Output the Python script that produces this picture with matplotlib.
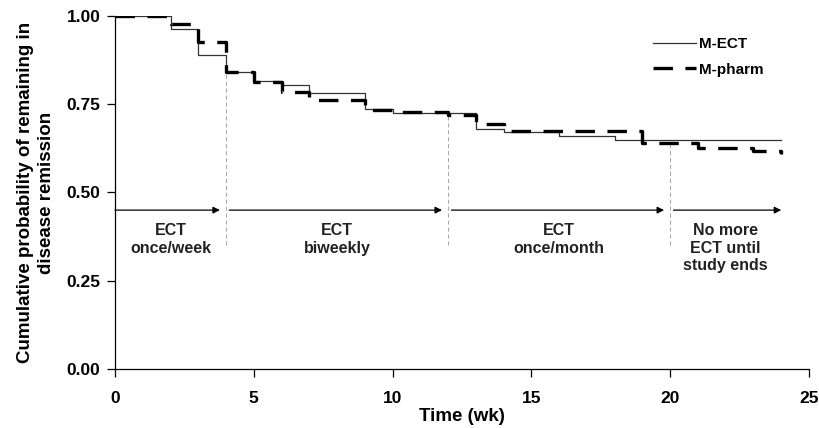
import numpy as np
import matplotlib
matplotlib.use("Agg")
import matplotlib.pyplot as plt

plt.rcParams['font.family'] = ['Liberation Sans', 'DejaVu Sans']
plt.rcParams['lines.scale_dashes'] = False

# Kaplan-Meier step data (time in weeks, survival probability)
ect_t = [0, 2, 3, 4, 5, 6, 7, 9, 10, 13, 14, 16, 18, 24]
ect_s = [1.0, 0.962, 0.890, 0.840, 0.816, 0.805, 0.783, 0.737, 0.726, 0.680, 0.672, 0.660, 0.650, 0.650]

pharm_t = [0, 2, 3, 4, 5, 6, 7, 9, 10, 12, 13, 14, 19, 21, 23, 24]
pharm_s = [1.0, 0.976, 0.925, 0.842, 0.812, 0.784, 0.762, 0.734, 0.729, 0.720, 0.694, 0.675, 0.639, 0.625, 0.617, 0.610]

# Treatment phases
phase_bounds = [0, 4, 12, 20, 24]
phase_labels = ["ECT\nonce/week", "ECT\nbiweekly", "ECT\nonce/month", "No more\nECT until\nstudy ends"]

x_ticks = [0, 5, 10, 15, 20, 25]
y_ticks = [0.0, 0.25, 0.50, 0.75, 1.00]

fig = plt.figure(figsize=(8.19, 4.28), dpi=100)
ax = fig.add_axes([0.1404, 0.1379, 0.8474, 0.8248])

ax.plot(ect_t, ect_s, drawstyle='steps-post', color='#333333', lw=0.9, label='M-ECT', zorder=3)
ax.plot(pharm_t, pharm_s, drawstyle='steps-post', color='black', lw=2.4,
        dashes=(14, 9), label='M-pharm', zorder=4)

def step_val(ts, ss, x):
    idx = np.searchsorted(ts, x, side='right') - 1
    return ss[idx]

arrow_y = 0.45
for b in phase_bounds[1:-1]:
    top = max(step_val(ect_t, ect_s, b), step_val(pharm_t, pharm_s, b))
    ax.plot([b, b], [0.35, top], color='#aaaaaa', lw=0.8, dashes=(3, 2), zorder=1)

for i in range(len(phase_bounds) - 1):
    a, b = phase_bounds[i], phase_bounds[i + 1]
    x0 = a + (0.12 if i > 0 else 0.0)
    x1 = b - (0.22 if i < len(phase_bounds) - 2 else 0.0)
    ax.annotate('', xy=(x1, arrow_y), xytext=(x0, arrow_y),
                arrowprops=dict(arrowstyle='-|>', color='black', lw=0.9,
                                mutation_scale=10, shrinkA=0, shrinkB=0))
    ax.text((a + b) / 2, 0.413, phase_labels[i], ha='center', va='top',
            fontsize=11.5, fontweight='bold', color='#222222', linespacing=1.2)

ax.set_xlim(0, 25)
ax.set_ylim(0, 1.0)
ax.set_xticks(x_ticks)
ax.set_yticks(y_ticks)
ax.set_yticklabels([f"{v:.2f}" for v in y_ticks])
ax.tick_params(axis='both', direction='out', length=5.5, width=0.9, labelsize=12.5)
ax.tick_params(axis='y', pad=5)
ax.tick_params(axis='x', pad=10)
for lab in ax.get_xticklabels() + ax.get_yticklabels():
    lab.set_fontweight('bold')
ax.spines['top'].set_visible(False)
ax.spines['right'].set_visible(False)
ax.spines['left'].set_linewidth(0.9)
ax.spines['bottom'].set_linewidth(0.9)

ax.set_xlabel('Time (wk)', fontsize=13.5, fontweight='bold', labelpad=2)
ax.set_ylabel('Cumulative probability of remaining in\ndisease remission', fontsize=13.5,
              fontweight='bold', linespacing=1.3)
ax.yaxis.set_label_coords(-0.086, 0.5)

leg = ax.legend(loc='upper left', bbox_to_anchor=(0.775, 0.94), frameon=False,
                fontsize=11, handlelength=2.8, handletextpad=0.2, labelspacing=0.75,
                borderaxespad=0, borderpad=0)
for t in leg.get_texts():
    t.set_fontweight('bold')

fig.savefig('out.png', dpi=100)
